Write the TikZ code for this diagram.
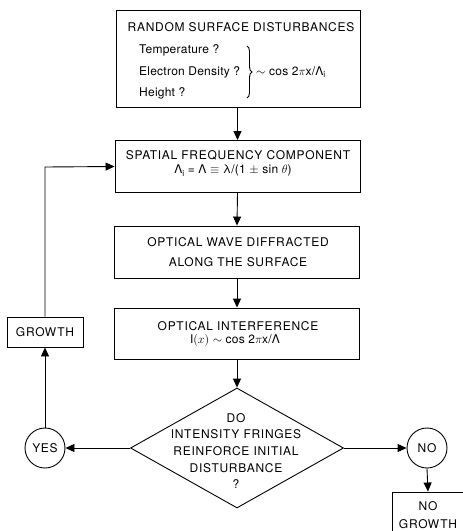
\documentclass[tikz,border=0pt]{standalone}
\usepackage{fontspec}
\usetikzlibrary{arrows.meta,shapes.geometric,decorations.pathreplacing}
\setmainfont{TeX Gyre Heros}
\newfontfamily\capsfont{TeX Gyre Heros}[LetterSpace=6]
\newfontfamily\lowfont{TeX Gyre Heros}[LetterSpace=2]
\newcommand\subi{\raisebox{-2.5pt}{\fontsize{8.5}{8.5}\selectfont i}}
\tikzset{
  line/.style={line width=0.9pt},
  arr/.style={line, -{Triangle[length=9pt,width=8pt]}},
  frame/.style={draw, line width=0.9pt, rectangle, inner sep=0pt},
  caps/.style={inner sep=0pt, font=\capsfont\fontsize{12}{16.7}\selectfont, align=center},
  small/.style={inner sep=0pt, font=\lowfont\fontsize{12}{12}\selectfont},
  ring/.style={draw, line width=0.9pt, circle, minimum size=40pt, inner sep=0pt,
               font=\capsfont\fontsize{12}{12}\selectfont},
}
\begin{document}
\begin{tikzpicture}[x=1pt,y=-1pt]
\clip (0,0) rectangle (463,531);

% top box: random surface disturbances
\node[frame, minimum width=244pt, minimum height=97pt] (dist) at (238,58.5) {};
\node[caps] (title) at (241,27) {RANDOM SURFACE DISTURBANCES};
\node[small, anchor=west] (temp) at (139,50) {Temperature ?};
\node[small, anchor=west] (dens) at (139,72) {Electron Density ?};
\node[small, anchor=west] (hgt)  at (139,93) {Height ?};
\coordinate (bt) at (247,46);
\coordinate (bb) at (247,98);
\draw[line, decorate, decoration={brace, amplitude=5pt}] (bt) -- (bb);
\node[small, anchor=west] (mode) at (256,72) {$\sim$ cos 2$\pi$x/Λ\subi};

% spatial frequency component
\node[frame, minimum width=245pt, minimum height=52pt] (freq) at (237.5,166.5) {};
\node[caps] (freqa) at (238,155) {SPATIAL FREQUENCY COMPONENT};
\node[small] (freqb) at (233,170.5)
  {Λ\subi\ = Λ $\equiv$ λ/(1 $\pm$ sin $\theta$)};

% diffraction
\node[frame, minimum width=245pt, minimum height=52pt] (wave) at (237,252) {};
\node[caps] (wavea) at (238,242) {OPTICAL WAVE DIFFRACTED};
\node[caps] (waveb) at (238,262.5) {ALONG THE SURFACE};

% interference
\node[frame, minimum width=245pt, minimum height=51pt] (intf) at (237,333.5) {};
\node[caps] (intfa) at (238,326) {OPTICAL INTERFERENCE};
\node[small] (intfb) at (235,340.5) {$\mathrm{I}(x)$ $\sim$ cos 2$\pi$x/Λ};

% decision
\node[draw, line width=0.9pt, diamond, minimum width=213pt, minimum height=120pt,
      inner sep=0pt] (dec) at (237,448) {};
\node[caps] (q) at (236,451)
  {DO\\INTENSITY FRINGES\\REINFORCE INITIAL\\DISTURBANCE\\?};

% outcomes
\node[ring] (yes) at (45,448) {YES};
\node[ring] (no) at (427,448) {NO};
\node[frame, minimum width=76pt, minimum height=30pt, font=\capsfont\fontsize{12}{12}\selectfont]
  (grow) at (45,332) {GROWTH};
\node[frame, minimum width=72pt, minimum height=46pt, align=center,
      font=\capsfont\fontsize{12}{18}\selectfont] (nogrow) at (428,515) {NO\\GROWTH};
\coordinate (corner) at (45,167);

% connectors
\draw[arr] (dist.south -| freq.north) -- (freq.north);
\draw[arr] (freq.south) -- (wave.north);
\draw[arr] (wave.south) -- (intf.north);
\draw[arr] (intf.south) -- (dec.north);
\draw[arr] (dec.west) -- (yes.east);
\draw[arr] (yes.north) -- (grow.south);
\draw[arr] (grow.north) -- (corner) -- (freq.west);
\draw[arr] (dec.east) -- (no.west);
\draw[arr] (no.south) -- (nogrow.north);
\end{tikzpicture}
\end{document}
